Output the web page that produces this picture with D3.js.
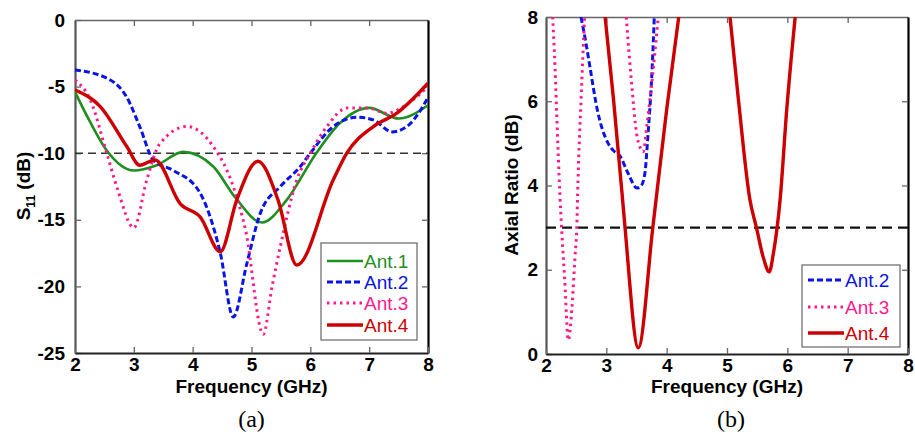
<!DOCTYPE html>
<html><head><meta charset="utf-8">
<script src="https://cdn.jsdelivr.net/npm/d3@7"></script>
<style>body{margin:0;background:#fff} svg{display:block}</style>
</head><body><svg id="c" width="915" height="436"></svg>
<script>
// ---------- data ----------
const xTicks = [2, 3, 4, 5, 6, 7, 8];
const s11Ticks = [0, -5, -10, -15, -20, -25];
const arTicks = [0, 2, 4, 6, 8];
const s11Threshold = -10;
const arThreshold = 3;
const legendA = ["Ant.1", "Ant.2", "Ant.3", "Ant.4"];
const legendB = ["Ant.2", "Ant.3", "Ant.4"];

// (a) S11 (dB)
const s11FreqAnt1 = [2.0, 2.25, 2.54, 3.0, 3.39, 3.84, 4.35, 4.72, 5.18, 5.6, 6.1, 6.5, 7.0, 7.5, 8.0];
const s11Ant1     = [-5.4, -7.6, -9.8, -11.3, -10.9, -9.9, -11.0, -13.3, -15.2, -13.5, -10.0, -7.75, -6.6, -7.4, -6.4];
const s11FreqAnt2 = [2.0, 2.6, 2.88, 3.1, 3.33, 3.67, 4.1, 4.47, 4.69, 4.92, 5.15, 5.49, 5.83, 6.0, 6.39, 6.8, 7.07, 7.39, 7.64, 7.87, 8.0];
const s11Ant2     = [-3.75, -4.5, -5.8, -8.0, -10.5, -11.3, -12.8, -17.5, -22.3, -18.3, -14.5, -12.5, -11.0, -10.0, -8.0, -7.3, -7.5, -8.4, -8.0, -6.8, -5.8];
const s11FreqAnt3 = [2.0, 2.26, 2.54, 2.73, 3.0, 3.22, 3.44, 3.9, 4.35, 4.69, 4.9, 5.2, 5.35, 5.49, 5.77, 6.0, 6.28, 6.63, 6.97, 7.3, 7.65, 8.0];
const s11Ant3     = [-4.5, -6.0, -10.0, -12.8, -15.6, -12.0, -9.3, -8.0, -9.5, -12.5, -15.8, -23.6, -20.0, -17.0, -12.0, -10.0, -8.0, -6.6, -6.6, -7.0, -6.3, -5.0];
const s11FreqAnt4 = [2.0, 2.43, 2.88, 3.1, 3.36, 3.79, 4.13, 4.47, 4.75, 5.11, 5.45, 5.77, 6.39, 6.62, 7.07, 7.47, 8.0];
const s11Ant4     = [-5.25, -6.5, -9.5, -10.9, -10.5, -13.8, -14.8, -17.4, -13.5, -10.6, -13.5, -18.4, -12.0, -10.0, -8.0, -7.0, -4.75];

// (b) Axial ratio (dB)
const arFreqAnt2  = [2.58, 2.66, 2.73, 2.85, 3.03, 3.11, 3.23, 3.36, 3.51, 3.58, 3.64, 3.69, 3.76, 3.8];
const arAnt2      = [8.0, 7.4, 6.8, 5.8, 5.0, 4.84, 4.69, 4.29, 3.94, 4.0, 4.3, 5.2, 6.8, 8.2];
const arFreqAnt3a = [2.11, 2.15, 2.18, 2.23, 2.26, 2.31, 2.37, 2.43, 2.48, 2.51, 2.53, 2.58, 2.64];
const arAnt3a     = [8.0, 6.8, 5.6, 3.8, 2.95, 1.76, 0.33, 1.1, 2.3, 3.0, 4.1, 6.0, 8.0];
const arFreqAnt3b = [3.33, 3.42, 3.5, 3.56, 3.61, 3.67, 3.72, 3.78, 3.86];
const arAnt3b     = [8.0, 6.4, 5.25, 4.9, 4.8, 5.4, 6.0, 6.8, 8.0];
const arFreqAnt4a = [2.98, 3.12, 3.26, 3.31, 3.53, 3.77, 4.0, 4.2];
const arAnt4a     = [8.0, 6.03, 3.82, 3.0, 0.15, 3.0, 5.8, 8.0];
const arFreqAnt4b = [5.05, 5.19, 5.38, 5.49, 5.6, 5.7, 5.77, 5.83, 5.88, 5.99, 6.13];
const arAnt4b     = [8.0, 6.03, 3.66, 2.99, 2.3, 1.95, 2.4, 2.99, 3.66, 5.8, 8.0];

// ---------- styles ----------
const FONT = "'Liberation Sans', Arial, sans-serif";
const style = {
  "Ant.1": {color: "#1f8f1f", dash: null, width: 2.6},
  "Ant.2": {color: "#0a14e6", dash: "6,3", width: 3},
  "Ant.3": {color: "#ff1a8c", dash: "2.5,4", width: 3},
  "Ant.4": {color: "#cc0000", dash: null, width: 3.4}
};
const zip = (xs, ys) => xs.map((x, i) => [x, ys[i]]);
const fmt = d => String(d);

const svg = d3.select("#c");

function panel(cfg) {
  const {x0, x1, y0, y1, yDomain, yTicks, id} = cfg;
  const x = d3.scaleLinear().domain([2, 8]).range([x0, x1]);
  const y = d3.scaleLinear().domain(yDomain).range([y1, y0]);
  const g = svg.append("g");
  g.append("clipPath").attr("id", id).append("rect")
    .attr("x", x0).attr("y", y0).attr("width", x1 - x0).attr("height", y1 - y0);

  // mirrored top/right ticks
  const top = g.append("g").attr("transform", `translate(0,${y0})`)
    .call(d3.axisTop(x).tickValues(xTicks.slice(1, -1)).tickSize(-6).tickSizeOuter(0).tickFormat(""));
  top.select(".domain").attr("stroke", "#666").attr("stroke-width", 1.6);
  top.selectAll(".tick line").attr("stroke", "#666").attr("stroke-width", 1.3);
  const right = g.append("g").attr("transform", `translate(${x1},0)`)
    .call(d3.axisRight(y).tickValues(yTicks.slice(1, -1)).tickSize(-6).tickSizeOuter(0).tickFormat(""));
  right.select(".domain").attr("stroke", "#000").attr("stroke-width", 2.2);
  right.selectAll(".tick line").attr("stroke", "#666").attr("stroke-width", 1.3);

  const left = g.append("g").attr("transform", `translate(${x0},0)`)
    .call(d3.axisLeft(y).tickValues(yTicks).tickFormat(fmt).tickSize(-6).tickSizeOuter(0).tickPadding(cfg.yPad));
  left.select(".domain").attr("stroke", "#555").attr("stroke-width", 2.2);
  left.selectAll(".tick line").attr("stroke", "#666").attr("stroke-width", 1.3);
  left.selectAll("text").attr("font-family", FONT).attr("font-weight", "bold")
    .attr("font-size", 19).attr("fill", "#000");

  const bottom = g.append("g").attr("transform", `translate(0,${y1})`)
    .call(d3.axisBottom(x).tickValues(xTicks).tickFormat(fmt).tickSize(-6).tickSizeOuter(0).tickPadding(5));
  bottom.select(".domain").attr("stroke", "#222").attr("stroke-width", 2.2);
  bottom.selectAll(".tick line").attr("stroke", "#666").attr("stroke-width", 1.3);
  bottom.selectAll("text").attr("font-family", FONT).attr("font-weight", "bold")
    .attr("font-size", 19).attr("fill", "#000");

  const cx = (x0 + x1) / 2;
  g.append("text").attr("x", cx).attr("y", 393).attr("text-anchor", "middle")
    .attr("font-family", FONT).attr("font-weight", "bold").attr("font-size", 19)
    .text("Frequency (GHz)");
  g.append("text").attr("x", cx + cfg.capDx).attr("y", 427).attr("text-anchor", "middle")
    .attr("font-family", "'Liberation Serif', 'Times New Roman', serif").attr("font-size", 24)
    .text(cfg.caption);

  const plot = g.append("g").attr("clip-path", `url(#${id})`);
  return {x, y, g, plot};
}

function drawLine(p, pts, name) {
  const s = style[name];
  const line = d3.line().x(d => p.x(d[0])).y(d => p.y(d[1])).curve(d3.curveMonotoneX);
  p.plot.append("path").attr("d", line(pts)).attr("fill", "none")
    .attr("stroke", s.color).attr("stroke-width", s.width)
    .attr("stroke-dasharray", s.dash).attr("stroke-linejoin", "round");
}

function legend(p, names, bx, by, bw, bh, rowY) {
  p.g.append("rect").attr("x", bx).attr("y", by).attr("width", bw).attr("height", bh)
    .attr("fill", "#fff").attr("stroke", "#666").attr("stroke-width", 1.2);
  names.forEach((n, i) => {
    const s = style[n];
    const yy = rowY[i];
    p.g.append("line").attr("x1", bx + 6).attr("x2", bx + 42).attr("y1", yy).attr("y2", yy)
      .attr("stroke", s.color).attr("stroke-width", s.width).attr("stroke-dasharray", s.dash);
    p.g.append("text").attr("x", bx + 43).attr("y", yy + 7).attr("font-family", FONT)
      .attr("font-size", 19).attr("fill", s.color).text(n);
  });
}

// ---------- panel (a) ----------
const A = panel({x0: 75, x1: 428, y0: 20, y1: 353, yDomain: [-25, 0], yTicks: s11Ticks,
  id: "clipA", yPad: 10, caption: "(a)", capDx: 0});
A.plot.append("line").attr("x1", A.x(2)).attr("x2", A.x(8))
  .attr("y1", A.y(s11Threshold)).attr("y2", A.y(s11Threshold))
  .attr("stroke", "#333").attr("stroke-width", 1.6).attr("stroke-dasharray", "8,5");
drawLine(A, zip(s11FreqAnt1, s11Ant1), "Ant.1");
drawLine(A, zip(s11FreqAnt2, s11Ant2), "Ant.2");
drawLine(A, zip(s11FreqAnt3, s11Ant3), "Ant.3");
drawLine(A, zip(s11FreqAnt4, s11Ant4), "Ant.4");
const yl = A.g.append("text").attr("transform", "translate(30,186) rotate(-90)")
  .attr("text-anchor", "middle").attr("font-family", FONT).attr("font-weight", "bold")
  .attr("font-size", 19);
yl.append("tspan").text("S");
yl.append("tspan").attr("font-size", 12).attr("dy", 5).text("11");
yl.append("tspan").attr("dy", -5).text(" (dB)");
legend(A, legendA, 321, 243, 96, 97, [261, 282, 303, 325]);

// ---------- panel (b) ----------
const B = panel({x0: 546, x1: 908, y0: 17, y1: 354, yDomain: [0, 8], yTicks: arTicks,
  id: "clipB", yPad: 8, caption: "(b)", capDx: 4});
B.plot.append("line").attr("x1", B.x(2)).attr("x2", B.x(8))
  .attr("y1", B.y(arThreshold)).attr("y2", B.y(arThreshold))
  .attr("stroke", "#111").attr("stroke-width", 2.4).attr("stroke-dasharray", "10,6");
drawLine(B, zip(arFreqAnt2, arAnt2), "Ant.2");
drawLine(B, zip(arFreqAnt3a, arAnt3a), "Ant.3");
drawLine(B, zip(arFreqAnt3b, arAnt3b), "Ant.3");
drawLine(B, zip(arFreqAnt4a, arAnt4a), "Ant.4");
drawLine(B, zip(arFreqAnt4b, arAnt4b), "Ant.4");
B.g.append("text").attr("transform", "translate(518,185) rotate(-90)")
  .attr("text-anchor", "middle").attr("font-family", FONT).attr("font-weight", "bold")
  .attr("font-size", 19).text("Axial Ratio (dB)");
legend(B, legendB, 802, 265, 98, 82, [280, 307, 333]);
</script>
</body></html>
